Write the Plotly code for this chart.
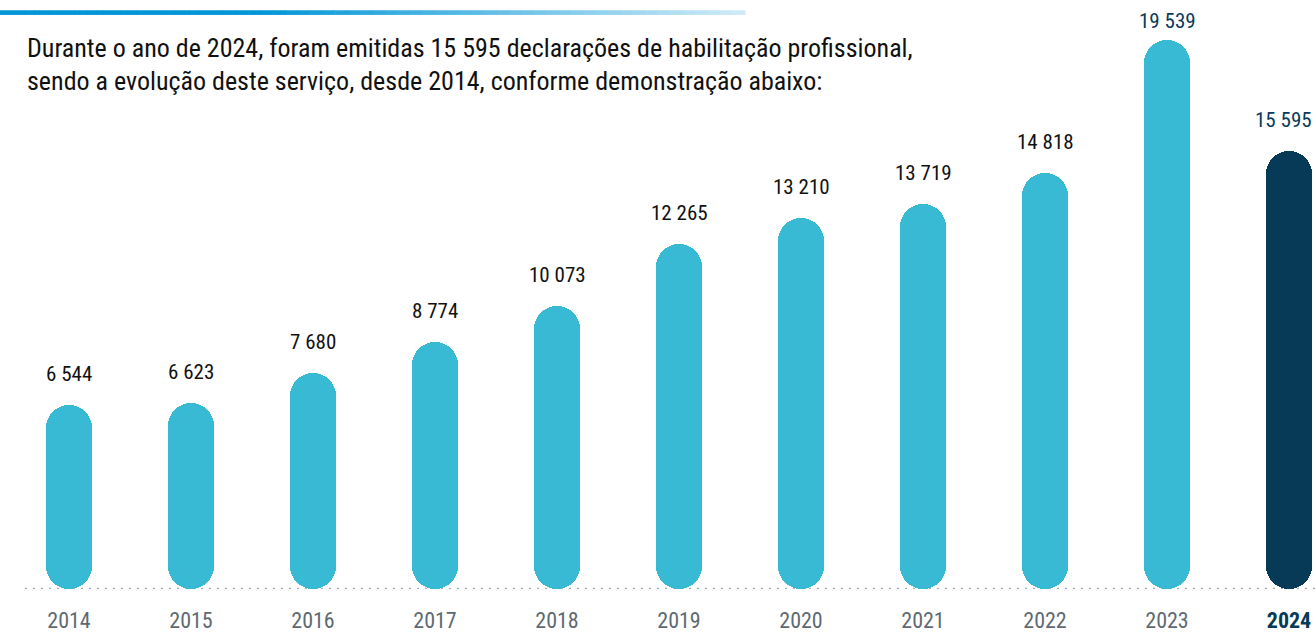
import plotly.graph_objects as go

years = ["2014", "2015", "2016", "2017", "2018", "2019", "2020", "2021", "2022", "2023", "2024"]
values = [6544, 6623, 7680, 8774, 10073, 12265, 13210, 13719, 14818, 19539, 15595]
value_labels = ["6 544", "6 623", "7 680", "8 774", "10 073", "12 265", "13 210", "13 719", "14 818", "19 539", "15 595"]
title_lines = [
    "Durante o ano de 2024, foram emitidas 15 595 declarações de habilitação profissional,",
    "sendo a evolução deste serviço, desde 2014, conforme demonstração abaixo:",
]

FONT = "Liberation Sans Narrow, Roboto Condensed, Arial Narrow, sans-serif"
CYAN = "#38b9d4"
NAVY = "#073a56"
bar_colors = [CYAN] * 10 + [NAVY]
label_colors = ["#111111"] * 9 + ["#0b3a5a", "#0b3a5a"]

W, H = 1316, 632
px_per_cat = 122.0
first_center = 69.0
bar_w = 46.0 / px_per_cat
zero_px = 589
k = 0.0281  # px per unit
plot_h = zero_px
ymax = plot_h / k

x_range = [-first_center / px_per_cat, (W - first_center) / px_per_cat]

fig = go.Figure()
fig.add_trace(go.Bar(
    x=list(range(len(years))), y=values, base=[0] * len(values), width=bar_w,
    marker=dict(color=bar_colors, cornerradius="50%", line=dict(width=0)),
    hoverinfo="skip", showlegend=False,
))

annotations = []
last = len(values) - 1
for i, (v, lab, c) in enumerate(zip(values, value_labels, label_colors)):
    top_px = zero_px - v * k
    shift = min(31, top_px - 21)
    center_px = first_center + i * px_per_cat
    edge = dict(xanchor="right", xshift=(W - 2) - center_px) if i == last else dict(xanchor="center")
    annotations.append(dict(
        x=i, y=v, xref="x", yref="y", text=lab, showarrow=False,
        yanchor="middle", yshift=shift,
        font=dict(family=FONT, size=21, color=c), **edge,
    ))

annotations.append(dict(
    x=25 / W, y=1 - 52 / H, xref="paper", yref="paper", xanchor="left", yanchor="middle",
    text=title_lines[0], showarrow=False, font=dict(family=FONT, size=26, color="#111111"),
))
annotations.append(dict(
    x=25 / W, y=1 - 87 / H, xref="paper", yref="paper", xanchor="left", yanchor="middle",
    text=title_lines[1], showarrow=False, font=dict(family=FONT, size=26, color="#111111"),
))

shapes = []
shapes.append(dict(type="line", xref="paper", yref="y", x0=25 / W, x1=1, y0=0, y1=0,
                   line=dict(color="#a3afb9", width=2.5, dash="2px,6px"), layer="below"))
n = 60
x_end = 745
c0 = (0, 150, 214)
c1 = (206, 234, 247)
for j in range(n):
    t = j / (n - 1)
    f = max(0.0, (t - 0.35) / 0.65)
    col = tuple(int(round(c0[m] + (c1[m] - c0[m]) * f)) for m in range(3))
    shapes.append(dict(type="rect", xref="paper", yref="paper",
                       x0=(j * x_end / n) / W, x1=((j + 1) * x_end / n + 0.5) / W,
                       y0=1 - 16 / H, y1=1 - 11 / H,
                       line=dict(width=0), fillcolor="rgb(%d,%d,%d)" % col))

ticktext = [y if y != "2024" else "<b><span style='color:%s'>2024</span></b>" % NAVY for y in years]

fig.update_layout(
    width=W, height=H,
    margin=dict(l=0, r=0, t=0, b=H - zero_px),
    paper_bgcolor="white", plot_bgcolor="white",
    barmode="overlay",
    bargap=0,
    xaxis=dict(range=x_range, tickmode="array", tickvals=list(range(len(years))), ticktext=ticktext,
               showgrid=False, zeroline=False, showline=False, ticks="",
               tickfont=dict(family=FONT, size=22, color="#5e6a73"), ticklabelstandoff=16,
               fixedrange=True),
    yaxis=dict(range=[0, ymax], visible=False, fixedrange=True),
    annotations=annotations,
    shapes=shapes,
)

fig.write_html("out.html", config={"displayModeBar": False},
               post_script="document.body.style.margin='0';document.body.style.padding='0';")
